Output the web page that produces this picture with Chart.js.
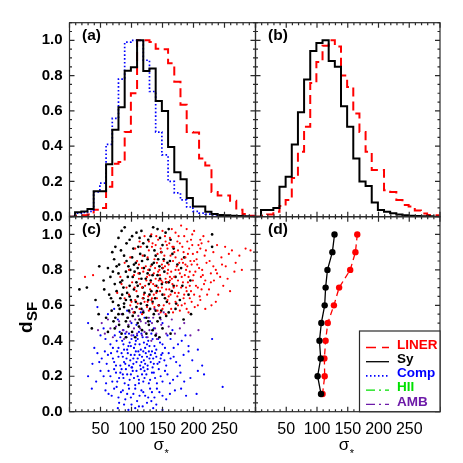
<!DOCTYPE html>
<html lang="en">
<head>
    <meta charset="UTF-8">
    <title>d_SF versus sigma</title>
    <script src="https://cdn.jsdelivr.net/npm/chart.js"></script>
    <style>
        body { margin: 0; background: #ffffff; }
        .wrap { position: relative; width: 463px; height: 463px; }
        .wrap canvas { position: absolute; left: 0; top: 0; }
    </style>
</head>
<body>
<div class="wrap">
    <canvas id="panelA" width="463" height="463"></canvas>
    <canvas id="panelB" width="463" height="463"></canvas>
    <canvas id="panelC" width="463" height="463"></canvas>
    <canvas id="panelD" width="463" height="463"></canvas>
</div>
<script>
// histogram bins (left edges, last value closes the final bin)
const binEdges = [-1, 9, 19, 29, 39, 49, 59, 69, 79, 89, 99, 109, 119, 129, 139, 149,
    159, 169, 179, 189, 199, 209, 219, 229, 239, 249, 259, 269, 279, 289, 299];

const histLinerA = [0, 0.005, 0.008, 0.012, 0.04, 0.05, 0.17, 0.30, 0.31, 0.48, 0.70, 1.0, 1.0, 0.99, 0.953,
    0.95, 0.87, 0.765, 0.635, 0.48, 0.478, 0.33, 0.29, 0.14, 0.12, 0.12, 0.09, 0.04, 0.015, 0.005];
const histSyA = [0, 0.025, 0.03, 0.044, 0.145, 0.145, 0.297, 0.493, 0.62, 0.827, 0.847, 1.0, 0.826, 0.84, 0.656,
    0.6, 0.395, 0.252, 0.212, 0.106, 0.058, 0.058, 0.028, 0.015, 0.01, 0.008, 0.005, 0.004, 0.003, 0];
const histCompA = [0, 0.02, 0.025, 0.03, 0.14, 0.19, 0.41, 0.557, 0.78, 0.99, 1.0, 1.0, 0.887, 0.71, 0.48,
    0.35, 0.2, 0.135, 0.095, 0.055, 0.03, 0.02, 0.015, 0.01, 0.008, 0.005, 0.004, 0.003, 0.002, 0];

const histLinerB = [0, 0.005, 0.013, 0.028, 0.06, 0.094, 0.22, 0.368, 0.51, 0.758, 0.877, 0.97, 1.0, 0.965, 0.8,
    0.736, 0.585, 0.48, 0.368, 0.265, 0.265, 0.15, 0.14, 0.095, 0.066, 0.058, 0.035, 0.018, 0.01, 0.008];
const histSyB = [0, 0.038, 0.038, 0.05, 0.17, 0.226, 0.41, 0.592, 0.778, 0.94, 0.985, 1.0, 0.883, 0.85, 0.626,
    0.51, 0.33, 0.2, 0.174, 0.081, 0.038, 0.028, 0.019, 0.012, 0.008, 0.005, 0.004, 0.003, 0.002, 0];

// panel (c): [sigma, d_SF]
const linerPts = [
    [150,1.02],[162,0.98],[171,1.01],[185,0.99],[143,0.97],[178,0.95],[196,0.97],[132,1.0],[208,0.94],[155,0.96],
    [121,0.99],[168,0.93],[189,1.03],[224,0.96],[139,0.94],[176,0.99],[201,1.02],[158,0.92],[113,0.96],[216,0.99],
    [148,0.9],[163,0.88],[175,0.91],[187,0.87],[199,0.89],[211,0.92],[128,0.91],[137,0.86],[152,0.85],[166,0.93],
    [181,0.86],[193,0.92],[205,0.86],[218,0.88],[232,0.9],[245,0.87],[262,0.91],[118,0.88],[106,0.92],[142,0.89],
    [157,0.94],[171,0.87],[184,0.9],[226,0.85],[251,0.93],[284,0.92],[274,0.88],[98,0.87],[133,0.93],[195,0.85],
    [96,0.8],[104,0.77],[112,0.83],[119,0.79],[125,0.76],[131,0.82],[136,0.78],[141,0.84],[146,0.77],[151,0.81],
    [155,0.75],[160,0.83],[164,0.79],[169,0.76],[173,0.82],[178,0.78],[183,0.84],[188,0.8],[192,0.76],[197,0.83],
    [203,0.79],[209,0.81],[215,0.77],[221,0.84],[228,0.78],[236,0.8],[243,0.76],[252,0.82],[266,0.79],[89,0.84],
    [82,0.76],[109,0.85],[127,0.8],[139,0.75],[149,0.83],[158,0.78],[167,0.85],[176,0.8],[186,0.77],[201,0.85],
    [212,0.76],[232,0.82],[25,0.76],[38,0.77],[117,0.81],[145,0.8],[162,0.76],[190,0.82],
    [92,0.7],[101,0.73],[108,0.68],[114,0.72],[120,0.66],[124,0.74],[130,0.69],[135,0.72],[140,0.67],[144,0.74],
    [149,0.7],[153,0.66],[157,0.73],[161,0.69],[166,0.72],[170,0.67],[175,0.74],[180,0.7],[185,0.66],[191,0.73],
    [196,0.68],[204,0.71],[210,0.65],[217,0.72],[225,0.69],[233,0.74],[240,0.66],[84,0.72],[77,0.67],[117,0.7],
    [127,0.65],[138,0.71],[146,0.68],[163,0.66],[173,0.71],[188,0.7],[199,0.74],[207,0.7],[222,0.66],[248,0.71],
    [98,0.6],[106,0.63],[113,0.58],[121,0.62],[128,0.57],[134,0.61],[141,0.64],[147,0.56],[152,0.6],[158,0.63],
    [164,0.58],[171,0.62],[178,0.57],[186,0.61],[194,0.64],[202,0.59],[117,0.55],[137,0.59],[155,0.55],[174,0.65],
    [192,0.56],[211,0.63],[89,0.64],[229,0.6],[103,0.56],
    [115,0.93],[126,0.87],[134,0.95],[147,0.92],[153,0.88],[161,0.95],[169,0.9],[174,0.96],[182,0.93],[191,0.89],
    [198,0.94],[206,0.9],[213,0.95],[220,0.91],[238,0.94],[257,0.89],[292,0.91],[268,0.84],[278,0.8],[246,0.83],
    [111,0.78],[123,0.82],[129,0.77],[138,0.81],[143,0.79],[148,0.74],[154,0.82],[159,0.8],[165,0.75],[171,0.8],
    [177,0.84],[181,0.76],[187,0.83],[194,0.79],[200,0.77],[206,0.83],[214,0.8],[219,0.74],[238,0.78],[255,0.75],
    [105,0.7],[112,0.75],[122,0.71],[131,0.73],[136,0.66],[143,0.7],[150,0.73],[156,0.69],[162,0.74],[168,0.7],
    [176,0.67],[183,0.73],[189,0.68],[194,0.71],[201,0.66],[213,0.69],[228,0.73],[259,0.68],[96,0.66],[133,0.64],
    [110,0.61],[125,0.59],[132,0.63],[144,0.6],[150,0.58],[161,0.61],[167,0.56],[181,0.6],[189,0.58],[197,0.62],
    [219,0.58],[142,0.57],[126,0.62],[160,0.65],[175,0.6],[207,0.6],[236,0.62],[118,0.64],[100,0.62],[184,0.64],
    [140,0.99],[165,1.03],[180,1.05],[198,1.0],[128,0.96],[211,0.97],[154,0.99],[190,0.96]
];
const syPts = [
    [84,1.02],[97,0.97],[108,1.01],[119,0.95],[131,0.99],[142,1.03],[150,0.94],[163,0.97],[230,1.0],[74,0.93],
    [103,0.92],[125,0.93],[137,0.91],[92,0.95],[155,1.01],[113,0.98],[168,0.92],[230,0.93],
    [72,0.86],[80,0.83],[88,0.88],[95,0.82],[101,0.87],[107,0.84],[114,0.89],[120,0.81],[126,0.86],[133,0.83],
    [139,0.88],[145,0.82],[152,0.86],[158,0.84],[166,0.89],[174,0.83],[185,0.87],[62,0.81],[48,0.82],[117,0.85],
    [129,0.8],[98,0.8],[143,0.86],[110,0.81],
    [66,0.76],[73,0.72],[79,0.78],[85,0.74],[91,0.79],[97,0.71],[102,0.76],[108,0.73],[113,0.78],[118,0.7],
    [123,0.75],[128,0.72],[134,0.77],[140,0.71],[146,0.75],[153,0.79],[160,0.73],[171,0.76],[182,0.71],[195,0.74],
    [16,0.69],[28,0.7],[55,0.74],[87,0.7],[105,0.79],[131,0.74],[149,0.72],
    [64,0.66],[70,0.62],[76,0.68],[82,0.64],[88,0.61],[93,0.67],[99,0.63],[104,0.69],[110,0.65],[115,0.61],
    [121,0.67],[127,0.63],[132,0.68],[138,0.64],[144,0.6],[150,0.66],[157,0.62],[165,0.68],[178,0.63],[192,0.66],
    [42,0.63],[56,0.69],[79,0.6],[97,0.65],[125,0.6],[134,0.62],
    [68,0.57],[74,0.53],[81,0.58],[86,0.55],[91,0.51],[96,0.57],[102,0.54],[108,0.59],[113,0.52],[119,0.56],
    [124,0.53],[130,0.58],[136,0.55],[142,0.51],[148,0.57],[156,0.54],[171,0.58],[196,0.55],[59,0.53],[47,0.55],
    [88,0.59],[110,0.5],
    [73,0.47],[84,0.44],[95,0.48],[106,0.42],[117,0.46],[128,0.49],[139,0.43],[150,0.47],[62,0.45],[36,0.47],
    [163,0.44],[101,0.45],
    [79,0.98],[89,1.04],[101,0.99],[116,1.02],[127,0.97],[135,1.04],[146,0.98],[160,1.03],[69,0.9],[83,0.91],
    [111,0.93],[148,0.9],[76,0.82],[92,0.85],[104,0.83],[121,0.88],[136,0.84],[150,0.81],[162,0.85],[180,0.81],
    [70,0.79],[82,0.73],[94,0.76],[110,0.71],[116,0.75],[126,0.78],[142,0.77],[156,0.73],[168,0.71],
    [67,0.64],[85,0.66],[91,0.63],[107,0.62],[119,0.64],[129,0.66],[141,0.68],[154,0.64],[172,0.61],
    [71,0.51],[79,0.55],[94,0.53],[105,0.56],[116,0.58],[127,0.51],[139,0.57],[146,0.53],[160,0.56],[184,0.52],
    [80,0.49],[91,0.42],[112,0.48],[124,0.44],[134,0.46],[145,0.42]
];
const compPts = [
    [45,0.59],[62,0.55],[78,0.52],[93,0.57],[108,0.49],[121,0.53],[136,0.47],[150,0.5],[166,0.46],[30,0.5],
    [55,0.47],[87,0.46],[115,0.56],[130,0.51],[100,0.5],[72,0.58],
    [58,0.41],[66,0.38],[73,0.43],[79,0.36],[85,0.4],[90,0.44],[95,0.37],[100,0.41],[104,0.36],[109,0.43],
    [113,0.38],[118,0.42],[122,0.36],[127,0.4],[132,0.44],[137,0.37],[143,0.41],[150,0.38],[158,0.43],[168,0.36],
    [181,0.4],[192,0.37],[207,0.35],[40,0.36],[50,0.43],[82,0.42],[97,0.39],[107,0.4],[115,0.35],[125,0.38],
    [140,0.35],[112,0.45],[93,0.35],[230,0.41],[175,0.38],
    [52,0.3],[60,0.27],[67,0.33],[72,0.28],[77,0.34],[82,0.26],[86,0.31],[90,0.27],[94,0.33],[98,0.29],
    [101,0.25],[105,0.32],[108,0.28],[111,0.34],[114,0.26],[117,0.31],[120,0.29],[123,0.33],[126,0.26],[129,0.3],
    [133,0.34],[136,0.27],[140,0.31],[145,0.28],[150,0.33],[156,0.26],[163,0.3],[172,0.28],[184,0.32],[198,0.29],
    [37,0.27],[45,0.33],[88,0.35],[103,0.3],[119,0.25],[131,0.28],[147,0.3],[214,0.26],
    [55,0.2],[63,0.23],[69,0.17],[75,0.22],[80,0.19],[84,0.24],[89,0.16],[93,0.21],[97,0.18],[102,0.23],
    [106,0.15],[110,0.2],[115,0.24],[119,0.17],[124,0.21],[128,0.16],[133,0.22],[138,0.19],[144,0.24],[150,0.17],
    [158,0.21],[167,0.18],[179,0.22],[195,0.19],[30,0.2],[43,0.17],[112,0.18],[100,0.25],[134,0.25],[217,0.21],
    [86,0.21],[121,0.23],
    [58,0.12],[68,0.09],[76,0.14],[83,0.11],[90,0.07],[96,0.13],[103,0.1],[109,0.06],[116,0.12],[122,0.09],
    [130,0.13],[137,0.08],[145,0.11],[156,0.07],[170,0.12],[188,0.09],[36,0.13],[100,0.04],[125,0.05],[247,0.14],
    [80,0.05],
    [78,0.02],[95,0.01],[112,0.03],[135,0.02],[140,0.04],[150,0.01],
    [76,0.4],[81,0.45],[87,0.38],[92,0.42],[96,0.44],[99,0.37],[103,0.43],[106,0.38],[110,0.41],[116,0.44],
    [120,0.39],[124,0.42],[129,0.37],[134,0.41],[139,0.43],[146,0.39],[154,0.36],[163,0.41],[187,0.43],[70,0.36],
    [62,0.32],[70,0.3],[75,0.26],[79,0.31],[84,0.33],[88,0.28],[92,0.3],[96,0.26],[99,0.32],[103,0.27],
    [107,0.34],[110,0.3],[113,0.32],[116,0.28],[119,0.34],[122,0.27],[125,0.31],[128,0.34],[131,0.32],[135,0.3],
    [138,0.33],[142,0.27],[148,0.32],[153,0.29],[160,0.33],[168,0.31],[178,0.26],[57,0.34],[48,0.28],[192,0.34],
    [59,0.16],[66,0.2],[72,0.24],[77,0.17],[82,0.22],[87,0.19],[91,0.24],[95,0.15],[99,0.21],[104,0.19],
    [108,0.23],[112,0.16],[117,0.21],[121,0.19],[126,0.24],[130,0.18],[136,0.22],[141,0.16],[147,0.2],[154,0.23],
    [162,0.16],[174,0.2],[185,0.17],[207,0.23],[50,0.23],
    [63,0.1],[72,0.13],[79,0.08],[86,0.12],[93,0.1],[99,0.08],[106,0.13],[113,0.09],[119,0.11],[127,0.08],
    [133,0.11],[141,0.13],[150,0.09],[162,0.1],[180,0.13],[205,0.1],[88,0.04],[118,0.03],[106,0.02],[132,0.06]
];
const ambPts = [
    [62,0.52],[75,0.48],[84,0.55],[92,0.45],[98,0.51],[104,0.47],[111,0.54],[117,0.43],[123,0.5],[129,0.46],
    [135,0.53],[141,0.41],[148,0.49],[156,0.44],[165,0.52],[178,0.47],[195,0.43],[46,0.46],[88,0.41],[101,0.58],
    [119,0.57],[132,0.4],[144,0.55],[70,0.42],[109,0.44],[126,0.42],[152,0.56],[93,0.53],[57,0.44],[138,0.47],
    [66,0.47],[80,0.51],[86,0.46],[95,0.49],[100,0.43],[106,0.52],[114,0.47],[121,0.45],[128,0.53],[133,0.5],
    [140,0.44],[147,0.52],[160,0.48],[170,0.44],[185,0.5],[52,0.5],[97,0.56],[115,0.51],[137,0.58],[208,0.46]
];

// panel (d): median sigma in d_SF bins
const dsfBins = [1.0, 0.9, 0.8, 0.7, 0.6, 0.5, 0.4, 0.3, 0.2, 0.1];
const medSigmaSy = [128.5, 125, 117, 114, 112.5, 107, 104, 106, 101, 106.5];
const medSigmaLiner = [165.5, 162.5, 154, 136, 127.5, 117.5, 114, 112, 112.5, 109];

const xTickValues = [50, 100, 150, 200, 250];
const yTickValues = [0, 0.2, 0.4, 0.6, 0.8, 1.0];
const legendNames = ['LINER', 'Sy', 'Comp', 'HII', 'AMB'];
const legendColors = ['#ff0000', '#000000', '#0000ff', '#00e000', '#6d1aa8'];
const legendDash = [[10, 6], [], [1.5, 2.5], [9, 4, 2, 4], [9, 4, 2, 4]];

const FONT = '"Liberation Sans", Arial, Helvetica, sans-serif';

const histData = (vals) => binEdges.map((e, i) => ({ x: e, y: vals[Math.min(i, vals.length - 1)] }));
const ptsData = (pts) => pts.map(([x, y]) => ({ x, y }));

const histSet = (vals, color, dash, width) => ({
    type: 'line', data: histData(vals), borderColor: color, borderDash: dash, borderWidth: width,
    stepped: true, pointRadius: 0, fill: false, tension: 0
});
const dotSet = (pts, color, r) => ({
    type: 'scatter', data: ptsData(pts), backgroundColor: color, borderWidth: 0, pointRadius: r
});

const framePlugin = {
    id: 'frame',
    afterDraw(chart) {
        const { ctx, chartArea: a, scales } = chart;
        const xs = scales.x, ys = scales.y;
        ctx.save();
        ctx.strokeStyle = '#2a2a2a';
        ctx.lineWidth = 1.2;
        ctx.beginPath();
        for (let v = 0; v <= 300; v += 10) {
            const px = xs.getPixelForValue(v);
            const len = v % 50 === 0 ? 5 : 2.5;
            ctx.moveTo(px, a.bottom); ctx.lineTo(px, a.bottom - len);
            ctx.moveTo(px, a.top); ctx.lineTo(px, a.top + len);
        }
        for (let i = 0; i <= 22; i++) {
            const py = ys.getPixelForValue(i * 0.05);
            const len = i % 4 === 0 ? 5 : 2.5;
            ctx.moveTo(a.left, py); ctx.lineTo(a.left + len, py);
            ctx.moveTo(a.right, py); ctx.lineTo(a.right - len, py);
        }
        ctx.stroke();
        ctx.strokeRect(a.left, a.top, a.right - a.left, a.bottom - a.top);
        ctx.restore();
    }
};

const textPlugin = {
    id: 'panelText',
    afterDraw(chart, args, opts) {
        const { ctx, chartArea: a } = chart;
        ctx.save();
        ctx.fillStyle = '#000';
        ctx.font = 'bold 15.5px ' + FONT;
        ctx.textBaseline = 'middle';
        ctx.textAlign = 'left';
        ctx.fillText(opts.label, a.left + 12.5, a.top + 13.5);

        if (opts.xTitle) {
            ctx.textBaseline = 'alphabetic';
            ctx.font = '17px ' + FONT;
            const w1 = ctx.measureText('σ').width;
            ctx.font = '11px ' + FONT;
            const w2 = ctx.measureText('*').width;
            const x0 = (a.left + a.right) / 2 - 1.5 - (w1 + w2) / 2;
            ctx.font = '17px ' + FONT;
            ctx.fillText('σ', x0, 450);
            ctx.font = '11px ' + FONT;
            ctx.fillText('*', x0 + w1 + 0.5, 456.5);
        }
        if (opts.yTitle) {
            ctx.translate(31.5, 333);
            ctx.rotate(-Math.PI / 2);
            ctx.textBaseline = 'alphabetic';
            ctx.font = 'bold 19px ' + FONT;
            ctx.fillText('d', 0, 0);
            const wd = ctx.measureText('d').width;
            ctx.font = 'bold 15px ' + FONT;
            ctx.fillText('SF', wd + 0.5, 5.5);
        }
        ctx.restore();
    }
};

const legendPlugin = {
    id: 'boxLegend',
    afterDraw(chart) {
        const { ctx, chartArea: a } = chart;
        const left = 359.5, top = 331;
        ctx.save();
        ctx.fillStyle = '#ffffff';
        ctx.fillRect(left, top, a.right - left, a.bottom - top);
        ctx.strokeStyle = '#2a2a2a';
        ctx.lineWidth = 1.2;
        ctx.strokeRect(left, top, a.right - left, a.bottom - top);
        ctx.font = 'bold 13.5px ' + FONT;
        ctx.textBaseline = 'middle';
        ctx.textAlign = 'left';
        legendNames.forEach((name, i) => {
            const y = 345 + i * 14.2;
            ctx.strokeStyle = legendColors[i];
            ctx.lineWidth = i === 2 ? 1.6 : 1.3;
            ctx.setLineDash(legendDash[i]);
            ctx.beginPath();
            ctx.moveTo(366, y + 2.5);
            ctx.lineTo(389, y + 2.5);
            ctx.stroke();
            ctx.setLineDash([]);
            ctx.fillStyle = legendColors[i];
            ctx.fillText(name, 397, y);
        });
        ctx.restore();
    }
};

const fixedTicks = (values) => (s) => { s.ticks = values.map(v => ({ value: v })); };

function makeOptions(box, showY, showX, panelText) {
    return {
        responsive: false,
        animation: false,
        events: [],
        layout: { padding: box },
        plugins: { legend: { display: false }, tooltip: { enabled: false }, panelText: panelText },
        scales: {
            x: {
                type: 'linear', min: 0, max: 300, display: showX,
                grid: { display: false, drawTicks: false },
                border: { display: false },
                afterBuildTicks: fixedTicks(xTickValues),
                afterFit: (s) => { s.height = showX ? 463 - 411.7 : 0; },
                ticks: {
                    autoSkip: false, maxRotation: 0, padding: 8.5, color: '#000',
                    font: { family: FONT, size: 16 },
                    callback: (v) => String(v)
                }
            },
            y: {
                type: 'linear', min: 0, max: 1.1, display: showY,
                grid: { display: false, drawTicks: false },
                border: { display: false },
                afterBuildTicks: fixedTicks(yTickValues),
                afterFit: (s) => { s.width = showY ? 69.5 : 0; },
                ticks: {
                    autoSkip: false, padding: 7, color: '#000',
                    font: { family: FONT, size: 15, weight: 'bold' },
                    callback: (v) => v.toFixed(1)
                }
            }
        }
    };
}

new Chart(document.getElementById('panelA'), {
    type: 'line',
    data: { datasets: [
        histSet(histSyA, '#000000', [], 2),
        histSet(histCompA, '#0000ff', [1.6, 2.2], 1.7),
        histSet(histLinerA, '#ff0000', [9, 5], 2)
    ] },
    options: makeOptions({ left: 0, top: 22.7, right: 463 - 255.5, bottom: 463 - 216.7 }, true, false, { label: '(a)' }),
    plugins: [framePlugin, textPlugin]
});

new Chart(document.getElementById('panelB'), {
    type: 'line',
    data: { datasets: [
        histSet(histSyB, '#000000', [], 2),
        histSet(histLinerB, '#ff0000', [9, 5], 2)
    ] },
    options: makeOptions({ left: 255.5, top: 22.7, right: 463 - 440, bottom: 463 - 216.7 }, false, false, { label: '(b)' }),
    plugins: [framePlugin, textPlugin]
});

new Chart(document.getElementById('panelC'), {
    type: 'scatter',
    data: { datasets: [
        dotSet(linerPts, '#ff0000', 1.1),
        dotSet(syPts, '#000000', 1.35),
        dotSet(ambPts, '#6d1aa8', 1.1),
        dotSet(compPts, '#0000ff', 1.1)
    ] },
    options: makeOptions({ left: 0, top: 216.7, right: 463 - 255.5, bottom: 0 }, true, true,
        { label: '(c)', xTitle: true, yTitle: true }),
    plugins: [framePlugin, textPlugin]
});

new Chart(document.getElementById('panelD'), {
    type: 'line',
    data: { datasets: [
        { data: dsfBins.map((d, i) => ({ x: medSigmaSy[i], y: d })), borderColor: '#000000', borderWidth: 1.3,
          pointRadius: 3.2, pointBackgroundColor: '#000000', pointBorderWidth: 0, tension: 0 },
        { data: dsfBins.map((d, i) => ({ x: medSigmaLiner[i], y: d })), borderColor: '#ff0000', borderWidth: 1.3,
          borderDash: [6, 4], pointRadius: 3.2, pointBackgroundColor: '#ff0000', pointBorderWidth: 0, tension: 0 }
    ] },
    options: makeOptions({ left: 255.5, top: 216.7, right: 463 - 440, bottom: 0 }, false, true,
        { label: '(d)', xTitle: true }),
    plugins: [framePlugin, textPlugin, legendPlugin]
});
</script>
</body>
</html>
